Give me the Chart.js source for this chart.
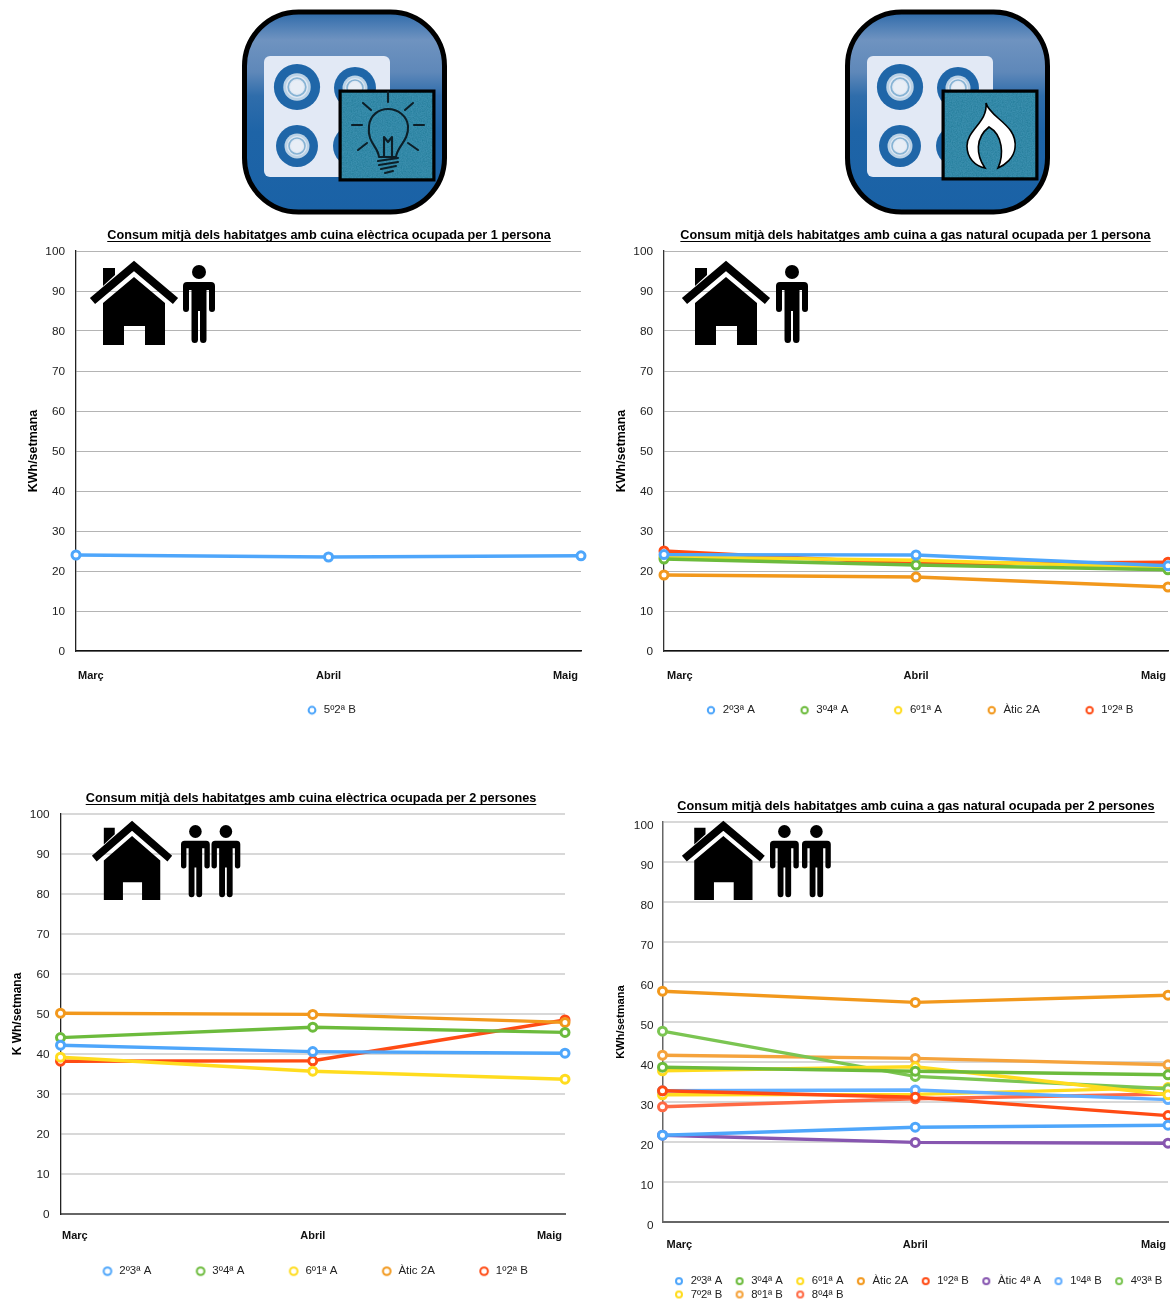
<!DOCTYPE html>
<html><head><meta charset="utf-8">
<script src="https://cdn.jsdelivr.net/npm/chart.js@4"></script>
<style>
html,body{margin:0;padding:0;background:#fff;width:1170px;height:1299px;overflow:hidden}
canvas{position:absolute}
svg{position:absolute;left:0;top:0;pointer-events:none}
</style></head><body>
<svg width="1170" height="1299" viewBox="0 0 1170 1299" style="z-index:2">
<defs>
<linearGradient id="blueBg" x1="0" y1="0" x2="0" y2="1">
<stop offset="0" stop-color="#2c69a8"/><stop offset=".06" stop-color="#4a7cb4"/><stop offset=".14" stop-color="#6f93c0"/><stop offset=".3" stop-color="#5f88b9"/><stop offset=".42" stop-color="#2f6dab"/><stop offset=".6" stop-color="#1e64a7"/><stop offset="1" stop-color="#1a62a6"/>
</linearGradient>
<filter id="speck" x="0" y="0" width="100%" height="100%">
<feTurbulence type="fractalNoise" baseFrequency="0.8" numOctaves="2" seed="4" result="n"/>
<feColorMatrix in="n" type="matrix" values="0 0 0 0 0  0 0 0 0 0.15  0 0 0 0 0.25  0.9 0 0 0 -0.25" result="d"/>
<feComposite in="d" in2="SourceGraphic" operator="in" result="m"/>
<feMerge><feMergeNode in="SourceGraphic"/><feMergeNode in="m"/></feMerge>
</filter>
<g id="burner"><circle r="21" fill="#1f66a8"/><circle r="12.5" fill="#bcd3e6"/><circle r="10" fill="#dfe8f3"/><circle r="8" fill="none" stroke="#86b3d4" stroke-width="1.6"/><circle r="6" fill="#e8eef6"/></g>
<g id="appBase">
<rect x="244.5" y="12" width="200" height="200" rx="54" fill="url(#blueBg)" stroke="#000" stroke-width="5"/>
<rect x="264" y="56" width="126" height="121" rx="6" fill="#e2e9f5"/>
<use href="#burner" transform="translate(297 87) scale(1.1)"/>
<use href="#burner" transform="translate(355 88)"/>
<use href="#burner" transform="translate(297 146)"/>
<use href="#burner" transform="translate(354 146)"/>
</g>
<g id="house">
<path d="M2.5 39 L44 4 L85.5 39" fill="none" stroke="#000" stroke-width="8"/>
<path d="M13 41 L44 15 L75 41 V83 H55 V64 H34 V83 H13Z"/>
<path d="M13 6 H25 V13 L13 24Z"/>
</g>
<g id="person">
<circle cx="16" cy="7" r="7"/>
<path d="M4 17 H28 Q32 17 32 21 V44 Q32 47 29 47 Q26 47 26 44 V25 H23.5 V74.5 Q23.5 78 20.25 78 Q17 78 17 74.5 V46 H15 V74.5 Q15 78 11.75 78 Q8.5 78 8.5 74.5 V25 H6 V44 Q6 47 3 47 Q0 47 0 44 V21 Q0 17 4 17Z"/>
</g>
</defs>
<use href="#appBase"/>
<rect x="340" y="91" width="94" height="89" fill="#3a8fae" stroke="#000" stroke-width="3" filter="url(#speck)"/>
<rect x="340" y="91" width="94" height="89" fill="none" stroke="#000" stroke-width="3"/>
<g fill="none" stroke="#0c1f28" stroke-width="2.1" stroke-linecap="round" stroke-linejoin="round">
<path d="M379 157 C378 146 367 143 369 126 C370 115 379 109 388 109 C398 109 407 116 408 126 C409 141 397 146 396 157 Z"/>
<path d="M384 156 L384 137 L388 142 L392 137 L392 156 M378 161 L398 158 M379 165 L398 162 M381 169 L396 166 M385 173 L393 171"/>
<path d="M388 92 V102 M363 103 L371 110 M413 103 L405 110 M352 125 H362 M414 125 H424 M358 150 L367 143 M418 150 L408 143"/>
</g>
<use href="#appBase" x="603"/>
<rect x="943" y="91" width="94" height="88" fill="#3a8fae" stroke="#000" stroke-width="3" filter="url(#speck)"/>
<rect x="943" y="91" width="94" height="88" fill="none" stroke="#000" stroke-width="3"/>
<path d="M986 103 C990 118 1018 125 1015 148 C1014 158 1005 165 998 168 C1004 155 1003 135 989 127 C975 138 976 155 985 168 C975 166 967 158 967 146 C967 130 988 122 986 103Z" fill="#fff" stroke="#000" stroke-width="1.6"/>

<use href="#house" transform="translate(90 262)"/>
<use href="#person" transform="translate(183 265)"/>
<use href="#house" transform="translate(682 262)"/>
<use href="#person" transform="translate(776 265)"/>
<use href="#house" transform="translate(92 822) scale(.91 .94)"/>
<use href="#person" transform="translate(181 825) scale(.9 .925)"/>
<use href="#person" transform="translate(211.5 825) scale(.9 .925)"/>
<use href="#house" transform="translate(682 822) scale(.94 .94)"/>
<use href="#person" transform="translate(770 825) scale(.9 .925)"/>
<use href="#person" transform="translate(802 825) scale(.9 .925)"/>
</svg>

<canvas id="c1"></canvas><canvas id="c2"></canvas><canvas id="c3"></canvas><canvas id="c4"></canvas>
<script>
const months = ["Març", "Abril", "Maig"];
const yTicks = [0, 10, 20, 30, 40, 50, 60, 70, 80, 90, 100];

const title1 = "Consum mitjà dels habitatges amb cuina elèctrica ocupada per 1 persona";
const title2 = "Consum mitjà dels habitatges amb cuina a gas natural ocupada per 1 persona";
const title3 = "Consum mitjà dels habitatges amb cuina elèctrica ocupada per 2 persones";
const title4 = "Consum mitjà dels habitatges amb cuina a gas natural ocupada per 2 persones";

// electric, 1 person
const e1_5o2aB = [24, 23.5, 23.8];
// gas, 1 person
const g1_2o3aA = [24.1, 24, 21.3];
const g1_3o4aA = [23, 21.5, 20.3];
const g1_6o1aA = [23.5, 22.7, 20.8];
const g1_atic2A = [19, 18.5, 16];
const g1_1o2aB = [25, 21.8, 22.2];
// electric, 2 persons
const e2_2o3aA = [42.2, 40.6, 40.2];
const e2_3o4aA = [44.1, 46.7, 45.4];
const e2_6o1aA = [39.2, 35.7, 33.7];
const e2_atic2A = [50.2, 49.9, 47.9];
const e2_1o2aB = [38.2, 38.3, 48.5];
// gas, 2 persons
const g2_2o3aA = [21.7, 23.7, 24.2];
const g2_3o4aA = [38.7, 37.7, 36.8];
const g2_6o1aA = [37.8, 38.8, 31.8];
const g2_atic2A = [57.7, 54.9, 56.7];
const g2_1o2aB = [32.8, 31.2, 26.6];
const g2_atic4aA = [21.7, 19.9, 19.7];
const g2_1o4aB = [32.8, 33, 30.6];
const g2_4o3aB = [47.7, 36.4, 33.3];
const g2_7o2aB = [31.8, 31.9, 33.6];
const g2_8o1aB = [41.7, 40.9, 39.3];
const g2_8o4aB = [28.8, 30.8, 32];

const BLUE="#4ea6fb", GREEN="#6cbb3c", YELLOW="#ffdc1e", ORANGE="#f2981c", RED="#ff4b14",
      PURPLE="#8756b0", BLUE2="#62aeff", GREEN2="#7bc552", ORANGE2="#f5a33c", RED2="#ff6a45";

const FONT = "'Liberation Sans', Arial, sans-serif";

function ring(color, r){
  const c=document.createElement('canvas'); c.width=12; c.height=12;
  const g=c.getContext('2d'); g.beginPath(); g.arc(6,6,r,0,Math.PI*2);
  g.fillStyle='#fff'; g.fill(); g.strokeStyle=color; g.lineWidth=2; g.stroke();
  return c;
}

const arrange = {
  id:'arrange',
  beforeLayout(chart){
    const lg=chart.legend;
    if(!lg._patched){ const f=lg.fit; lg.fit=function(){ f.call(this); this.height=0; }; lg._patched=true; }
  },
  afterLayout(chart,_,o){
    const lg=chart.legend, pad=o.legendPad;
    lg.left = o.legendX - 6 - pad - o.cl;
    lg.right = o.legendRight - o.cl;
    lg.top = o.legendY - 5.5 - pad - o.ct;
    lg.bottom = lg.top + 300;
    const tb=chart.titleBlock;
    tb.left = o.titleCx - o.cl - 300; tb.right = o.titleCx - o.cl + 300;
    const xi=chart.scales.x.getLabelItems();
    xi[0].options.translation[0]+=o.firstDx;
    xi[xi.length-1].options.translation[0]-=o.lastDx;
    const yi=chart.scales.y.getLabelItems();
    yi.forEach(it=>{it.options.translation[1]+=o.yLabelDy;});
  },
  afterDraw(chart){
    const t=chart.titleBlock, g=chart.ctx, txt=chart.options.plugins.title.text;
    g.save(); g.font=`bold ${chart.options.plugins.title.font.size}px ${FONT}`;
    const w=g.measureText(txt).width, cx=(t.left+t.right)/2, y=t.top+14.5;
    g.strokeStyle='#000'; g.lineWidth=1; g.beginPath(); g.moveTo(cx-w/2,y); g.lineTo(cx+w/2,y); g.stroke(); g.restore();
  }
};

function make(cfg){
  const cv=document.getElementById(cfg.id);
  const h=cfg.plotB-cfg.ct+ cfg.below;
  cv.style.left=cfg.cl+'px'; cv.style.top=cfg.ct+'px';
  cv.style.width=cfg.cw+'px'; cv.style.height=h+'px';
  cv.width=cfg.cw; cv.height=h;
  new Chart(cv,{
    type:'line',
    data:{labels:months,datasets:cfg.series.map(s=>({label:s[0],data:s[1],borderColor:s[2],backgroundColor:'#fff',
      pointBackgroundColor:'#fff',pointBorderColor:s[2],pointBorderWidth:3,pointRadius:4,borderWidth:3.4,tension:0,clip:false}))},
    options:{
      responsive:false,animation:false,
      events:[],
      layout:{autoPadding:false,padding:{top:cfg.plotT-cfg.ct-24,left:cfg.yLeft-cfg.cl,right:cfg.cl+cfg.cw-cfg.plotR,bottom:0}},
      scales:{
        x:{type:'category',offset:false,
          grid:{display:false},
          border:{display:true,color:cfg.xAxisColor,width:cfg.xAxisW},
          ticks:{align:'inner',maxRotation:0,autoSkip:false,padding:cfg.xPad,color:'#111',font:{family:FONT,size:11,weight:'bold'}},
          afterFit(s){s.height=cfg.below;}},
        y:{min:0,max:100,
          afterBuildTicks(s){s.ticks=yTicks.map(v=>({value:v}));},
          grid:{color:cfg.gridColor,lineWidth:cfg.gridW,drawTicks:false},
          border:{display:true,color:cfg.yAxisColor,width:cfg.yAxisW},
          ticks:{padding:cfg.yPad,color:'#222',font:{family:FONT,size:11.8}},
          title:{display:true,text:cfg.yTitle,color:'#000',padding:0,font:{family:FONT,size:cfg.yTitleSize,weight:'bold',lineHeight:'14px'}},
          afterFit(s){s.width=cfg.plotL-cfg.yLeft;}}
      },
      plugins:{
        tooltip:{enabled:false},
        title:{display:true,text:cfg.title,color:'#000',padding:{top:0.5,bottom:7.5},font:{family:FONT,size:cfg.titleSize,weight:'bold',lineHeight:'16px'}},
        legend:{display:true,position:'bottom',align:'start',
          labels:{usePointStyle:true,pointStyleWidth:12,boxHeight:11,padding:cfg.legendPad,color:'#222',font:{family:FONT,size:cfg.legendFont},
            generateLabels(chart){
              return Chart.defaults.plugins.legend.labels.generateLabels(chart).map((it,i)=>({...it,
                text:it.text+cfg.legendFill,pointStyle:ring(cfg.series[i][2],cfg.ringR)}));
            }}},
        arrange:{cl:cfg.cl,ct:cfg.ct,legendX:cfg.legendX,legendY:cfg.legendY,legendPad:cfg.legendPad,legendRight:cfg.legendRight,
          firstDx:cfg.firstDx,lastDx:cfg.lastDx,yLabelDy:cfg.yLabelDy,titleCx:cfg.titleCx}
      }
    },
    plugins:[arrange]
  });
}

make({id:'c1',cl:0,ct:221,cw:658,plotL:76,plotR:581,plotT:251,plotB:651,below:80,yLeft:27,title:title1,titleSize:12.7,titleCx:329,
  yTitle:'KWh/setmana',yTitleSize:12.5,xAxisColor:'#111',xAxisW:1.5,yAxisColor:'#222',yAxisW:1.3,gridColor:'#b4b4b4',gridW:1,
  xPad:10,yPad:11,firstDx:2,lastDx:3,yLabelDy:1,legendPad:43.7,legendFont:11.5,legendFill:'',legendX:312,legendY:710,legendRight:5000,ringR:3.4,
  series:[['5º2ª B',e1_5o2aB,BLUE]]});

make({id:'c2',cl:610,ct:221,cw:611,plotL:664,plotR:1168,plotT:251,plotB:651,below:80,yLeft:615,title:title2,titleSize:12.7,titleCx:915.5,
  yTitle:'KWh/setmana',yTitleSize:12.5,xAxisColor:'#111',xAxisW:1.5,yAxisColor:'#333',yAxisW:1.3,gridColor:'#b4b4b4',gridW:1,
  xPad:10,yPad:11,firstDx:3,lastDx:2,yLabelDy:1,legendPad:43.7,legendFont:11.5,legendFill:'',legendX:711,legendY:710,legendRight:5000,ringR:3.2,
  series:[['2º3ª A',g1_2o3aA,BLUE],['3º4ª A',g1_3o4aA,GREEN],['6º1ª A',g1_6o1aA,YELLOW],['Àtic 2A',g1_atic2A,ORANGE],['1º2ª B',g1_1o2aB,RED]]});

make({id:'c3',cl:0,ct:784,cw:622,plotL:60.5,plotR:565,plotT:814,plotB:1214,below:80,yLeft:11,title:title3,titleSize:12.7,titleCx:311,
  yTitle:'K Wh/setmana',yTitleSize:12,xAxisColor:'#666',xAxisW:2,yAxisColor:'#222',yAxisW:1.3,gridColor:'#d8d8d8',gridW:2,
  xPad:7,yPad:11,firstDx:1.5,lastDx:3,yLabelDy:1,legendPad:43.2,legendFont:11.5,legendFill:'',legendX:107.5,legendY:1271,legendRight:5000,ringR:3.8,
  series:[['2º3ª A',e2_2o3aA,BLUE],['3º4ª A',e2_3o4aA,GREEN],['6º1ª A',e2_6o1aA,YELLOW],['Àtic 2A',e2_atic2A,ORANGE],['1º2ª B',e2_1o2aB,RED]]});

make({id:'c4',cl:610,ct:792,cw:612,plotL:662.5,plotR:1168,plotT:822,plotB:1222,below:77,yLeft:614,title:title4,titleSize:12.7,titleCx:916,
  yTitle:'KWh/setmana',yTitleSize:11.1,xAxisColor:'#666',xAxisW:2,yAxisColor:'#666',yAxisW:1.5,gridColor:'#d8d8d8',gridW:2,
  xPad:8,yPad:9,firstDx:4,lastDx:2,yLabelDy:4,legendPad:2,legendFont:11.3,legendFill:'\u00a0\u00a0\u00a0',legendX:679,legendY:1281,legendRight:1200,ringR:3,
  series:[['2º3ª A',g2_2o3aA,BLUE],['3º4ª A',g2_3o4aA,GREEN],['6º1ª A',g2_6o1aA,YELLOW],['Àtic 2A',g2_atic2A,ORANGE],['1º2ª B',g2_1o2aB,RED],
    ['Àtic 4ª A',g2_atic4aA,PURPLE],['1º4ª B',g2_1o4aB,BLUE2],['4º3ª B',g2_4o3aB,GREEN2],['7º2ª B',g2_7o2aB,YELLOW],['8º1ª B',g2_8o1aB,ORANGE2],['8º4ª B',g2_8o4aB,RED2]]});
</script>
</body></html>
